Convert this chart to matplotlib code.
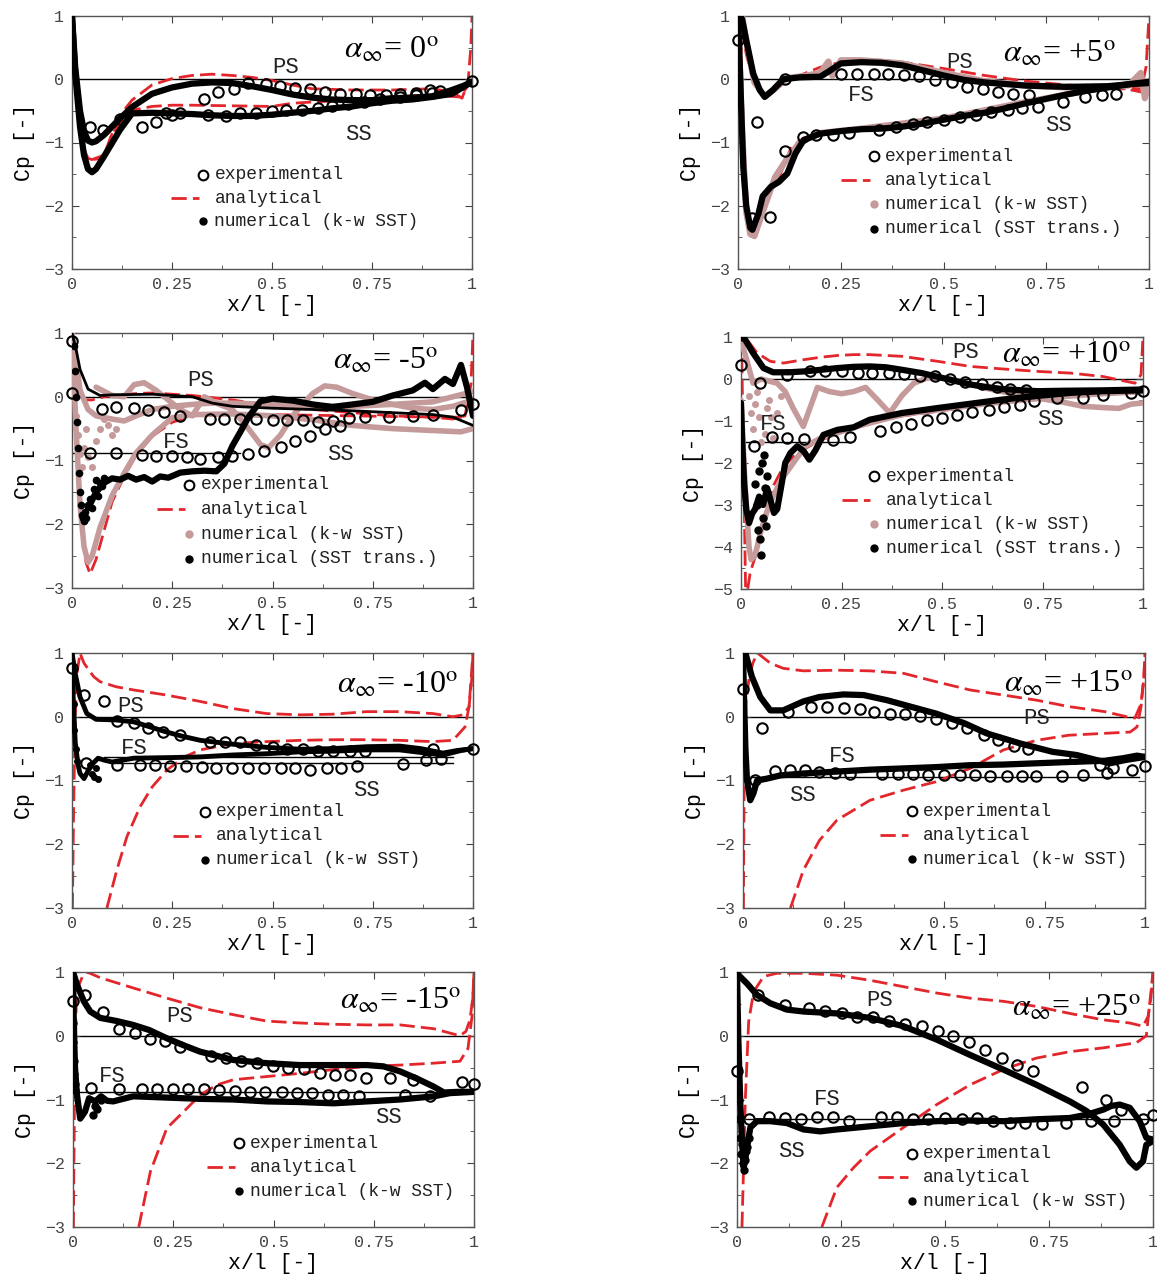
import matplotlib
matplotlib.use('Agg')
from matplotlib import pyplot as plt

plt.rcParams['mathtext.fontset'] = 'stix'
MONO = 'Liberation Mono'
SERIF = 'Liberation Serif'
RED = '#e3262b'
PINK = '#c49a9a'
W, H = 1157, 1282

# ---------------- alpha = 0 ----------------
P0_EXP_X = [0.33, 0.365, 0.405, 0.44, 0.485, 0.52, 0.558, 0.595, 0.633, 0.67, 0.71, 0.745, 0.785, 0.82, 0.86, 0.895, 0.92, 1.0,
            0.045, 0.077, 0.12, 0.175, 0.21, 0.235, 0.25, 0.27, 0.34, 0.385, 0.42, 0.46, 0.5, 0.535, 0.575, 0.615, 0.65, 0.69, 0.73, 0.77, 0.82, 0.86, 0.9]
P0_EXP_Y = [-0.31, -0.2, -0.15, -0.06, -0.07, -0.11, -0.14, -0.16, -0.2, -0.23, -0.24, -0.25, -0.25, -0.23, -0.21, -0.17, -0.18, -0.03,
            -0.75, -0.8, -0.63, -0.75, -0.68, -0.54, -0.57, -0.54, -0.57, -0.58, -0.53, -0.53, -0.5, -0.49, -0.48, -0.45, -0.43, -0.39, -0.36, -0.32, -0.28, -0.25, -0.22]
P0_NUM_PS_X = [0, 0.008, 0.02, 0.03, 0.04, 0.05, 0.06, 0.08, 0.1, 0.12, 0.15, 0.2, 0.25, 0.3, 0.35, 0.4, 0.45, 0.5, 0.55, 0.6, 0.65, 0.7, 0.75, 0.8, 0.85, 0.9, 0.95, 0.98, 1.0]
P0_NUM_PS_Y = [1.0, 0.19, -0.5, -0.82, -0.97, -1.0, -0.98, -0.88, -0.75, -0.62, -0.44, -0.23, -0.13, -0.07, -0.05, -0.06, -0.11, -0.17, -0.24, -0.29, -0.32, -0.33, -0.33, -0.3, -0.29, -0.27, -0.17, -0.1, -0.04]
P0_NUM_SS_X = [0, 0.008, 0.02, 0.03, 0.04, 0.05, 0.06, 0.08, 0.1, 0.12, 0.15, 0.2, 0.25, 0.3, 0.35, 0.4, 0.45, 0.5, 0.55, 0.6, 0.65, 0.7, 0.75, 0.8, 0.85, 0.9, 0.95, 1.0]
P0_NUM_SS_Y = [1.0, 0.1, -0.75, -1.2, -1.42, -1.47, -1.42, -1.22, -1.01, -0.8, -0.54, -0.53, -0.54, -0.55, -0.57, -0.58, -0.58, -0.56, -0.53, -0.5, -0.46, -0.43, -0.38, -0.34, -0.32, -0.28, -0.23, -0.04]
P0_ANA_PS_X = [0.0, 0.01, 0.02, 0.03, 0.04, 0.05, 0.08, 0.1, 0.13, 0.15, 0.2, 0.25, 0.3, 0.35, 0.4, 0.45, 0.5, 0.55, 0.6, 0.7, 0.8, 0.9, 0.95, 0.975, 0.99, 0.997, 1.0]
P0_ANA_PS_Y = [1.0, 0.2, -0.6, -1.1, -1.25, -1.27, -1.25, -0.86, -0.49, -0.33, -0.09, 0.01, 0.06, 0.08, 0.06, 0.03, -0.02, -0.09, -0.15, -0.17, -0.17, -0.15, -0.2, -0.3, -0.05, 0.5, 1.0]
P0_ANA_SS_X = [0.04, 0.05, 0.08, 0.1, 0.15, 0.2, 0.25, 0.3, 0.4, 0.5, 0.55, 0.6, 0.7, 0.8, 0.9, 0.97, 0.99]
P0_ANA_SS_Y = [-1.25, -1.27, -1.2, -0.86, -0.49, -0.43, -0.41, -0.41, -0.42, -0.43, -0.38, -0.36, -0.33, -0.28, -0.25, -0.28, -0.1]

# ---------------- alpha = +5 ----------------
P5_EXP_X = [0.0, 0.114, 0.25, 0.29, 0.33, 0.365, 0.404, 0.44, 0.48, 0.52, 0.556, 0.595, 0.633, 0.67, 0.708,
            0.046, 0.035, 0.077, 0.114, 0.157, 0.19, 0.23, 0.27, 0.343, 0.384, 0.425, 0.46, 0.5, 0.54, 0.58, 0.615, 0.656, 0.69, 0.73, 0.79, 0.844, 0.885, 0.92]
P5_EXP_Y = [0.62, 0.0, 0.09, 0.09, 0.09, 0.08, 0.06, 0.05, -0.01, -0.04, -0.13, -0.16, -0.2, -0.23, -0.25,
            -0.67, -2.2, -2.17, -1.13, -0.92, -0.88, -0.88, -0.85, -0.8, -0.75, -0.7, -0.67, -0.65, -0.6, -0.56, -0.51, -0.49, -0.45, -0.44, -0.36, -0.28, -0.25, -0.24]
P5_TR_PS_X = [0.0, 0.005, 0.01, 0.02, 0.037, 0.053, 0.065, 0.085, 0.11, 0.15, 0.2, 0.22, 0.25, 0.3, 0.35, 0.4, 0.45, 0.5, 0.55, 0.6, 0.7, 0.8, 0.9, 0.95, 1.0]
P5_TR_PS_Y = [0.9, 1.0, 0.95, 0.62, 0.09, -0.17, -0.28, -0.17, 0.0, 0.03, 0.04, 0.12, 0.25, 0.27, 0.26, 0.22, 0.14, 0.06, -0.01, -0.05, -0.1, -0.12, -0.11, -0.08, -0.06]
P5_TR_SS_X = [0.0, 0.003, 0.008, 0.013, 0.02, 0.03, 0.035, 0.05, 0.06, 0.08, 0.1, 0.12, 0.14, 0.16, 0.2, 0.25, 0.3, 0.35, 0.4, 0.45, 0.5, 0.55, 0.6, 0.65, 0.7, 0.75, 0.8, 0.85, 0.9, 0.95, 1.0]
P5_TR_SS_Y = [0.95, 0.5, -0.5, -1.4, -2.0, -2.35, -2.38, -2.12, -1.85, -1.7, -1.62, -1.49, -1.17, -0.96, -0.86, -0.82, -0.79, -0.78, -0.75, -0.7, -0.64, -0.58, -0.53, -0.46, -0.38, -0.31, -0.24, -0.18, -0.13, -0.08, -0.04]
P5_KW_PS_X = [0.0, 0.01, 0.02, 0.04, 0.065, 0.09, 0.12, 0.16, 0.2, 0.22, 0.23, 0.25, 0.3, 0.4, 0.5, 0.6, 0.7, 0.8, 0.9, 0.95, 0.98, 0.99, 1.0]
P5_KW_PS_Y = [0.9, 1.0, 0.6, -0.05, -0.27, -0.15, 0.02, 0.05, 0.1, 0.28, 0.05, 0.3, 0.3, 0.25, 0.1, -0.03, -0.1, -0.13, -0.12, -0.1, 0.1, -0.3, -0.05]
P5_KW_SS_X = [0.0, 0.01, 0.02, 0.03, 0.04, 0.06, 0.09, 0.12, 0.15, 0.2, 0.3, 0.5, 0.7, 0.9, 1.0]
P5_KW_SS_Y = [0.95, -0.8, -2.1, -2.45, -2.48, -2.1, -1.55, -1.25, -1.0, -0.85, -0.78, -0.62, -0.36, -0.12, -0.04]
P5_ANA_PS_X = [0.0, 0.005, 0.01, 0.02, 0.04, 0.07, 0.1, 0.12, 0.15, 0.2, 0.25, 0.3, 0.35, 0.4, 0.5, 0.6, 0.7, 0.8, 0.9, 0.95, 0.98, 0.993, 1.0]
P5_ANA_PS_Y = [1.15, 1.0, 0.8, 0.4, -0.1, -0.25, -0.1, 0.0, 0.06, 0.19, 0.27, 0.31, 0.3, 0.27, 0.17, 0.06, -0.03, -0.09, -0.13, -0.16, -0.2, 0.2, 1.0]
P5_ANA_SS_X = [0.005, 0.015, 0.025, 0.035, 0.05, 0.07, 0.1, 0.13, 0.16, 0.2, 0.3, 0.4, 0.5, 0.6, 0.7, 0.8, 0.9, 0.98]
P5_ANA_SS_Y = [1.0, -1.2, -2.2, -2.45, -2.2, -1.85, -1.55, -1.07, -0.93, -0.86, -0.8, -0.74, -0.62, -0.5, -0.36, -0.22, -0.13, -0.15]

# ---------------- alpha = -5 ----------------
M5_EXP_X = [0.0, 0.0, 0.075, 0.11, 0.155, 0.19, 0.23, 0.27, 0.344, 0.38, 0.42, 0.46, 0.5, 0.535, 0.575, 0.614, 0.65, 0.69, 0.73, 0.79, 0.85, 0.9, 0.97, 1.0,
            0.045, 0.11, 0.174, 0.21, 0.25, 0.286, 0.32, 0.365, 0.4, 0.44, 0.48, 0.52, 0.556, 0.593, 0.63, 0.668]
M5_EXP_Y = [0.87, 0.06, -0.19, -0.16, -0.17, -0.2, -0.24, -0.3, -0.35, -0.35, -0.35, -0.35, -0.37, -0.37, -0.37, -0.4, -0.38, -0.33, -0.32, -0.32, -0.3, -0.28, -0.2, -0.12,
            -0.88, -0.88, -0.92, -0.93, -0.93, -0.94, -0.97, -0.94, -0.93, -0.9, -0.85, -0.79, -0.7, -0.62, -0.51, -0.46]
M5_TR_PS_X = [0.0, 0.01, 0.02, 0.04, 0.07, 0.1, 0.2, 0.3, 0.35, 0.4, 0.5, 0.6, 0.7, 0.8, 0.9, 0.95, 1.0]
M5_TR_PS_Y = [1.0, 0.75, 0.43, 0.12, 0.02, 0.03, 0.04, 0.0, -0.1, -0.15, -0.18, -0.2, -0.22, -0.25, -0.28, -0.32, -0.45]
M5_TR_SS_X = [0.04, 0.06, 0.08, 0.1, 0.12, 0.14, 0.16, 0.18, 0.2, 0.22, 0.24, 0.27, 0.3, 0.33, 0.36, 0.38, 0.4, 0.42, 0.44, 0.47, 0.5, 0.55, 0.6, 0.65, 0.7, 0.75, 0.8, 0.85, 0.88, 0.9, 0.93, 0.95, 0.97, 0.985, 1.0]
M5_TR_SS_Y = [-1.75, -1.5, -1.35, -1.28, -1.3, -1.24, -1.3, -1.26, -1.33, -1.25, -1.27, -1.19, -1.17, -1.16, -1.17, -1.05, -0.77, -0.55, -0.32, -0.07, -0.03, -0.06, -0.12, -0.16, -0.12, -0.08, 0.02, 0.1, 0.22, 0.12, 0.28, 0.2, 0.5, 0.15, -0.3]
M5_TR_DOT_X = [0.005, 0.008, 0.01, 0.012, 0.015, 0.018, 0.02, 0.022, 0.025, 0.028, 0.03, 0.033, 0.036, 0.04, 0.045, 0.05, 0.055, 0.06, 0.065, 0.07, 0.075, 0.08]
M5_TR_DOT_Y = [0.8, 0.4, 0.0, -0.4, -0.8, -1.2, -1.5, -1.7, -1.85, -1.9, -1.95, -1.8, -1.9, -1.7, -1.6, -1.75, -1.45, -1.3, -1.55, -1.35, -1.4, -1.28]
M5_KW_A_X = [0.0, 0.01, 0.02, 0.03, 0.04, 0.05, 0.07, 0.1, 0.13, 0.16, 0.2, 0.25, 0.3, 0.4, 0.5, 0.6, 0.7, 0.8, 0.9, 0.97, 1.0]
M5_KW_A_Y = [1.0, -0.5, -1.7, -2.35, -2.6, -2.5, -2.05, -1.55, -1.2, -0.88, -0.6, -0.33, -0.28, -0.27, -0.3, -0.36, -0.45, -0.5, -0.53, -0.55, -0.5]
M5_KW_B_X = [0.0, 0.01, 0.02, 0.04, 0.06, 0.1, 0.13, 0.16, 0.2, 0.25, 0.3, 0.35, 0.4, 0.5, 0.6, 0.7, 0.8, 0.9, 1.0]
M5_KW_B_Y = [1.0, 0.6, 0.1, -0.2, -0.3, -0.35, -0.38, -0.3, -0.2, -0.15, -0.12, -0.1, -0.1, -0.12, -0.15, -0.15, -0.12, -0.08, 0.08]
M5_KW_C_X = [0.06, 0.1, 0.13, 0.155, 0.18, 0.21, 0.24, 0.27, 0.3, 0.33, 0.36, 0.4, 0.44, 0.47, 0.49, 0.52, 0.55, 0.6, 0.63, 0.66, 0.7, 0.75, 0.8, 0.85, 0.9, 0.95, 1.0]
M5_KW_C_Y = [0.15, 0.02, 0.0, 0.19, 0.22, 0.1, -0.05, -0.2, -0.3, 0.0, -0.1, -0.2, -0.5, -0.75, -0.8, -0.6, -0.3, 0.05, 0.17, 0.15, 0.05, -0.05, -0.12, -0.18, -0.2, -0.15, -0.05]
M5_KW_DOT_X = [0.01, 0.015, 0.02, 0.025, 0.03, 0.035, 0.04, 0.05, 0.06, 0.07, 0.08, 0.09, 0.1, 0.11]
M5_KW_DOT_Y = [-0.3, -0.6, -0.9, -1.1, -0.8, -0.5, -0.95, -1.1, -0.7, -0.5, -0.35, -0.45, -0.6, -0.5]
M5_ANA_PS_X = [0.0, 0.01, 0.02, 0.03, 0.05, 0.08, 0.12, 0.16, 0.2, 0.3, 0.4, 0.5, 0.6, 0.7, 0.8, 0.9, 0.95, 0.98, 0.995, 1.0]
M5_ANA_PS_Y = [1.0, 0.4, 0.05, -0.05, -0.05, 0.0, 0.03, 0.05, 0.06, 0.02, -0.05, -0.15, -0.2, -0.25, -0.3, -0.32, -0.35, -0.3, 0.2, 1.0]
M5_ANA_SS_X = [0.005, 0.015, 0.025, 0.035, 0.045, 0.06, 0.08, 0.1, 0.13, 0.16, 0.2, 0.25, 0.3, 0.4, 0.5, 0.7, 0.9, 0.98]
M5_ANA_SS_Y = [0.5, -1.0, -2.0, -2.6, -2.78, -2.55, -2.1, -1.65, -1.25, -0.92, -0.62, -0.4, -0.3, -0.27, -0.28, -0.3, -0.32, -0.32]

# ---------------- alpha = +10 ----------------
P10_EXP_X = [0.0, 0.048, 0.114, 0.172, 0.21, 0.25, 0.29, 0.326, 0.367, 0.405, 0.446, 0.483, 0.52, 0.558, 0.6, 0.637, 0.67, 0.71, 0.786, 0.85, 0.9, 0.97, 1.0,
             0.032, 0.077, 0.114, 0.156, 0.23, 0.27, 0.345, 0.386, 0.423, 0.463, 0.5, 0.537, 0.575, 0.616, 0.653, 0.695, 0.73]
P10_EXP_Y = [0.34, -0.1, 0.1, 0.18, 0.18, 0.18, 0.14, 0.14, 0.14, 0.13, 0.08, 0.06, 0.0, -0.06, -0.13, -0.19, -0.24, -0.27, -0.45, -0.45, -0.37, -0.33, -0.29,
             -1.6, -1.38, -1.4, -1.44, -1.46, -1.38, -1.23, -1.15, -1.06, -0.97, -0.93, -0.85, -0.79, -0.73, -0.67, -0.61, -0.52]
P10_TR_PS_X = [0.0, 0.01, 0.03, 0.056, 0.08, 0.12, 0.156, 0.2, 0.24, 0.28, 0.32, 0.36, 0.4, 0.45, 0.49, 0.53, 0.57, 0.61, 0.65, 0.7, 0.74, 0.8, 0.9, 1.0]
P10_TR_PS_Y = [0.98, 0.94, 0.62, 0.26, 0.16, 0.16, 0.18, 0.22, 0.26, 0.29, 0.3, 0.28, 0.22, 0.14, 0.05, -0.04, -0.13, -0.19, -0.24, -0.27, -0.29, -0.28, -0.27, -0.25]
P10_TR_SS_X = [0.0, 0.003, 0.008, 0.013, 0.02, 0.028, 0.035, 0.045, 0.055, 0.065, 0.073, 0.082, 0.09, 0.1, 0.11, 0.123, 0.14, 0.156, 0.17, 0.185, 0.205, 0.24, 0.28, 0.32, 0.36, 0.4, 0.49, 0.57, 0.65, 0.74, 0.82, 0.9, 1.0]
P10_TR_SS_Y = [-0.57, -1.5, -2.5, -3.1, -3.43, -3.2, -3.1, -2.8, -3.0, -2.6, -2.87, -3.19, -3.1, -2.56, -2.0, -1.76, -1.6, -1.72, -1.92, -1.7, -1.33, -1.21, -1.15, -0.97, -0.89, -0.81, -0.69, -0.59, -0.49, -0.4, -0.33, -0.29, -0.27]
P10_TR_DOT_X = [0.035, 0.04, 0.042, 0.045, 0.048, 0.05, 0.052, 0.055, 0.057, 0.06, 0.062, 0.065]
P10_TR_DOT_Y = [-2.5, -3.0, -3.6, -2.2, -3.8, -4.2, -2.0, -3.3, -1.8, -2.6, -3.5, -2.3]
P10_KW_PS_X = [0.0, 0.01, 0.03, 0.05, 0.07, 0.09, 0.11, 0.13, 0.155, 0.175, 0.19, 0.22, 0.25, 0.28, 0.31, 0.34, 0.37, 0.4, 0.43, 0.47, 0.52, 0.6, 0.7, 0.8, 0.85, 0.9, 0.94, 0.97, 1.0]
P10_KW_PS_Y = [0.9, 0.6, -0.1, 0.0, -0.05, -0.1, -0.3, -0.7, -1.13, -0.6, -0.2, -0.3, -0.35, -0.3, -0.2, -0.5, -0.81, -0.4, -0.1, 0.05, 0.0, -0.2, -0.4, -0.55, -0.65, -0.68, -0.7, -0.6, -0.57]
P10_KW_SS_X = [0.0, 0.01, 0.02, 0.025, 0.035, 0.05, 0.07, 0.1, 0.13, 0.16, 0.2, 0.3, 0.4, 0.5, 0.6, 0.7, 0.8, 0.9, 1.0]
P10_KW_SS_Y = [-0.5, -2.5, -4.0, -4.3, -4.2, -3.6, -3.0, -2.4, -2.0, -1.6, -1.4, -1.1, -0.85, -0.72, -0.6, -0.5, -0.42, -0.35, -0.3]
P10_KW_DOT_X = [0.02, 0.025, 0.03, 0.035, 0.04, 0.045, 0.05, 0.055, 0.06, 0.065, 0.07, 0.075, 0.08, 0.09, 0.1]
P10_KW_DOT_Y = [-0.4, -0.8, -1.2, -0.6, -0.3, -0.9, -1.5, -2.0, -1.3, -0.7, -0.5, -0.9, -1.4, -0.8, -0.4]
P10_ANA_PS_X = [0.0, 0.01, 0.04, 0.073, 0.106, 0.156, 0.2, 0.24, 0.28, 0.32, 0.4, 0.49, 0.57, 0.65, 0.74, 0.82, 0.9, 0.94, 0.98, 0.995, 1.0]
P10_ANA_PS_Y = [0.6, 1.0, 0.62, 0.42, 0.38, 0.46, 0.52, 0.56, 0.58, 0.58, 0.54, 0.42, 0.3, 0.24, 0.18, 0.14, 0.06, -0.02, -0.1, 0.1, 1.0]
P10_ANA_SS_X = [0.002, 0.008, 0.012, 0.023, 0.04, 0.056, 0.08, 0.106, 0.14, 0.17, 0.2, 0.24, 0.32, 0.4, 0.49, 0.57, 0.65, 0.74, 0.82, 0.9, 0.98]
P10_ANA_SS_Y = [0.5, -3.0, -5.3, -4.6, -4.1, -3.35, -2.55, -2.08, -1.76, -1.6, -1.45, -1.3, -1.05, -0.88, -0.77, -0.65, -0.53, -0.45, -0.37, -0.33, -0.29]

# ---------------- alpha = -10 ----------------
M10_EXP_X = [0.0, 0.03, 0.079, 0.112, 0.154, 0.19, 0.228, 0.27, 0.345, 0.382, 0.42, 0.46, 0.5, 0.535, 0.575, 0.614, 0.65, 0.693, 0.73, 0.826, 0.884, 0.9, 0.92, 1.0,
             0.036, 0.112, 0.17, 0.208, 0.245, 0.285, 0.324, 0.36, 0.4, 0.44, 0.48, 0.52, 0.556, 0.593, 0.635, 0.672, 0.71]
M10_EXP_Y = [0.76, 0.34, 0.24, -0.06, -0.1, -0.17, -0.24, -0.28, -0.39, -0.39, -0.39, -0.45, -0.47, -0.5, -0.5, -0.53, -0.54, -0.54, -0.54, -0.74, -0.68, -0.5, -0.67, -0.5,
             -0.72, -0.76, -0.76, -0.76, -0.77, -0.77, -0.79, -0.8, -0.8, -0.81, -0.81, -0.81, -0.81, -0.84, -0.81, -0.8, -0.77]
M10_NUM_PS_X = [0.0, 0.008, 0.02, 0.037, 0.06, 0.11, 0.154, 0.195, 0.236, 0.278, 0.32, 0.4, 0.485, 0.57, 0.65, 0.734, 0.817, 0.87, 0.925, 0.96, 1.0]
M10_NUM_PS_Y = [1.0, 0.68, 0.31, 0.05, -0.04, -0.05, -0.08, -0.16, -0.24, -0.31, -0.37, -0.43, -0.48, -0.51, -0.5, -0.47, -0.46, -0.5, -0.57, -0.53, -0.5]
M10_NUM_SS_X = [0.0, 0.003, 0.008, 0.015, 0.02, 0.03, 0.04, 0.054, 0.065, 0.08, 0.1, 0.154, 0.25, 0.32, 0.4, 0.485, 0.57, 0.65, 0.734, 0.817, 0.87, 0.925, 0.97, 1.0]
M10_NUM_SS_Y = [1.0, 0.3, -0.4, -0.75, -0.89, -0.97, -0.85, -0.72, -0.65, -0.68, -0.71, -0.65, -0.64, -0.63, -0.6, -0.58, -0.55, -0.54, -0.52, -0.52, -0.56, -0.6, -0.53, -0.5]
M10_NUM_DOT_X = [0.002, 0.004, 0.006, 0.01, 0.013, 0.045, 0.05, 0.055, 0.06, 0.065]
M10_NUM_DOT_Y = [0.6, 0.2, -0.2, -0.5, -0.7, -0.75, -0.9, -0.95, -0.8, -0.97]
M10_ANA_PS_X = [0.001, 0.004, 0.008, 0.013, 0.02, 0.03, 0.054, 0.07, 0.11, 0.154, 0.236, 0.32, 0.4, 0.485, 0.57, 0.65, 0.734, 0.817, 0.9, 0.95, 0.975, 0.99, 0.997, 1.0]
M10_ANA_PS_Y = [-3.0, -1.5, 0.0, 0.7, 1.0, 0.84, 0.63, 0.55, 0.47, 0.42, 0.34, 0.24, 0.13, 0.05, 0.03, 0.04, 0.08, 0.08, 0.05, 0.0, 0.03, 0.15, 0.6, 1.0]
M10_ANA_SS_X = [0.087, 0.112, 0.137, 0.17, 0.2, 0.236, 0.28, 0.32, 0.4, 0.485, 0.57, 0.65, 0.734, 0.817, 0.9, 0.95, 0.98, 0.99, 1.0]
M10_ANA_SS_Y = [-3.0, -2.4, -1.88, -1.41, -1.1, -0.84, -0.63, -0.52, -0.42, -0.39, -0.37, -0.36, -0.36, -0.37, -0.39, -0.37, -0.16, 0.15, 1.0]

# ---------------- alpha = +15 ----------------
P15_EXP_X = [0.0, 0.047, 0.113, 0.17, 0.21, 0.25, 0.29, 0.325, 0.366, 0.403, 0.44, 0.48, 0.52, 0.558, 0.6, 0.635, 0.673, 0.71, 0.826, 0.888, 0.92, 0.967, 1.0,
             0.03, 0.08, 0.118, 0.155, 0.19, 0.23, 0.267, 0.345, 0.385, 0.424, 0.46, 0.5, 0.54, 0.577, 0.615, 0.656, 0.693, 0.73, 0.793, 0.847, 0.905]
P15_EXP_Y = [0.43, -0.18, 0.08, 0.16, 0.16, 0.13, 0.12, 0.08, 0.05, 0.04, 0.01, -0.03, -0.1, -0.18, -0.29, -0.36, -0.46, -0.5, -0.64, -0.76, -0.81, -0.84, -0.77,
             -0.99, -0.85, -0.84, -0.84, -0.86, -0.89, -0.9, -0.9, -0.9, -0.9, -0.92, -0.92, -0.92, -0.92, -0.93, -0.93, -0.93, -0.93, -0.93, -0.92, -0.89]
P15_NUM_PS_X = [0.0, 0.006, 0.022, 0.043, 0.068, 0.1, 0.15, 0.19, 0.25, 0.3, 0.358, 0.416, 0.48, 0.55, 0.606, 0.69, 0.77, 0.83, 0.88, 0.913, 0.95, 1.0]
P15_NUM_PS_Y = [0.95, 1.0, 0.63, 0.31, 0.1, 0.1, 0.24, 0.31, 0.35, 0.34, 0.26, 0.16, 0.05, -0.1, -0.26, -0.42, -0.55, -0.6, -0.68, -0.73, -0.68, -0.63]
P15_NUM_SS_X = [0.0, 0.003, 0.006, 0.01, 0.018, 0.026, 0.035, 0.06, 0.093, 0.15, 0.234, 0.316, 0.4, 0.48, 0.565, 0.648, 0.73, 0.81, 0.9, 0.946, 0.98, 1.0]
P15_NUM_SS_Y = [1.0, 0.2, -0.5, -1.0, -1.31, -1.2, -1.0, -0.97, -0.92, -0.89, -0.86, -0.83, -0.81, -0.79, -0.76, -0.75, -0.73, -0.71, -0.69, -0.65, -0.61, -0.63]
P15_ANA_PS_X = [0.001, 0.003, 0.007, 0.015, 0.025, 0.036, 0.068, 0.1, 0.15, 0.234, 0.316, 0.4, 0.48, 0.565, 0.648, 0.73, 0.81, 0.9, 0.955, 0.975, 0.99, 0.997, 1.0]
P15_ANA_PS_Y = [-3.0, -1.0, 0.2, 0.6, 0.85, 1.0, 0.84, 0.76, 0.72, 0.73, 0.72, 0.68, 0.55, 0.42, 0.34, 0.26, 0.16, 0.08, 0.0, -0.02, 0.2, 0.6, 1.0]
P15_ANA_SS_X = [0.118, 0.15, 0.19, 0.234, 0.316, 0.4, 0.48, 0.565, 0.648, 0.73, 0.81, 0.9, 0.963, 0.98, 0.99, 0.997, 1.0]
P15_ANA_SS_Y = [-3.0, -2.41, -1.94, -1.62, -1.31, -1.15, -1.02, -0.81, -0.52, -0.37, -0.29, -0.26, -0.24, -0.16, 0.15, 0.6, 1.0]

# ---------------- alpha = -15 ----------------
M15_EXP_X = [0.0, 0.03, 0.076, 0.114, 0.155, 0.193, 0.23, 0.267, 0.344, 0.382, 0.42, 0.458, 0.498, 0.537, 0.575, 0.616, 0.654, 0.69, 0.73, 0.79, 0.847, 0.97, 1.0,
             0.045, 0.114, 0.172, 0.21, 0.25, 0.288, 0.326, 0.363, 0.404, 0.442, 0.48, 0.52, 0.558, 0.596, 0.637, 0.674, 0.712, 0.828, 0.89]
M15_EXP_Y = [0.54, 0.64, 0.38, 0.11, 0.04, -0.05, -0.08, -0.17, -0.31, -0.35, -0.39, -0.43, -0.48, -0.51, -0.52, -0.58, -0.61, -0.61, -0.66, -0.66, -0.69, -0.73, -0.76,
             -0.82, -0.83, -0.83, -0.83, -0.83, -0.83, -0.83, -0.85, -0.87, -0.89, -0.89, -0.89, -0.9, -0.9, -0.93, -0.93, -0.94, -0.93, -0.95]
M15_NUM_PS_X = [0.0, 0.01, 0.027, 0.043, 0.068, 0.11, 0.15, 0.19, 0.234, 0.276, 0.317, 0.4, 0.483, 0.566, 0.65, 0.733, 0.774, 0.816, 0.857, 0.9, 0.925, 0.96, 1.0]
M15_NUM_PS_Y = [1.0, 0.8, 0.54, 0.38, 0.28, 0.23, 0.17, 0.09, -0.04, -0.15, -0.25, -0.38, -0.43, -0.46, -0.46, -0.46, -0.48, -0.56, -0.67, -0.8, -0.89, -0.88, -0.88]
M15_NUM_SS_X = [0.0, 0.002, 0.005, 0.01, 0.018, 0.03, 0.04, 0.055, 0.07, 0.085, 0.1, 0.15, 0.234, 0.317, 0.4, 0.483, 0.566, 0.65, 0.733, 0.816, 0.9, 0.94, 1.0]
M15_NUM_SS_Y = [1.0, 0.2, -0.5, -0.93, -1.3, -1.19, -0.98, -1.03, -0.95, -1.02, -1.03, -0.95, -0.97, -0.99, -1.0, -1.03, -1.04, -1.06, -1.03, -1.0, -0.95, -0.9, -0.88]
M15_NUM_DOT_X = [0.0, 0.001, 0.002, 0.003, 0.004, 0.005, 0.05, 0.055, 0.06, 0.07]
M15_NUM_DOT_Y = [0.2, -0.1, -0.4, -0.6, -0.75, -0.85, -1.24, -1.1, -1.15, -1.0]
M15_ANA_PS_X = [0.001, 0.004, 0.008, 0.015, 0.025, 0.035, 0.068, 0.15, 0.234, 0.317, 0.4, 0.483, 0.566, 0.65, 0.733, 0.816, 0.9, 0.965, 0.98, 0.99, 0.997, 1.0]
M15_ANA_PS_Y = [-3.0, -0.8, 0.5, 0.8, 0.95, 1.0, 0.91, 0.75, 0.59, 0.44, 0.33, 0.23, 0.2, 0.18, 0.17, 0.17, 0.11, 0.0, 0.07, 0.25, 0.6, 1.0]
M15_ANA_SS_X = [0.164, 0.193, 0.234, 0.276, 0.317, 0.359, 0.4, 0.483, 0.566, 0.65, 0.733, 0.816, 0.9, 0.965, 0.985, 0.995, 1.0]
M15_ANA_SS_Y = [-3.0, -2.13, -1.45, -1.19, -0.93, -0.77, -0.69, -0.64, -0.59, -0.53, -0.48, -0.46, -0.43, -0.4, -0.2, 0.3, 1.0]

# ---------------- alpha = +25 ----------------
P25_EXP_X = [0.0, 0.05, 0.116, 0.174, 0.212, 0.252, 0.288, 0.328, 0.366, 0.404, 0.444, 0.482, 0.52, 0.558, 0.596, 0.636, 0.674, 0.712, 0.83, 0.888, 0.924, 1.0,
             0.03, 0.076, 0.116, 0.154, 0.192, 0.23, 0.27, 0.346, 0.384, 0.422, 0.46, 0.5, 0.54, 0.578, 0.616, 0.656, 0.692, 0.732, 0.79, 0.85, 0.906, 0.976]
P25_EXP_Y = [-0.55, 0.64, 0.49, 0.43, 0.39, 0.35, 0.3, 0.29, 0.23, 0.18, 0.15, 0.08, -0.01, -0.1, -0.23, -0.35, -0.46, -0.56, -0.81, -1.0, -1.16, -1.24,
             -1.3, -1.28, -1.29, -1.3, -1.28, -1.28, -1.33, -1.28, -1.28, -1.31, -1.31, -1.29, -1.3, -1.29, -1.34, -1.37, -1.37, -1.38, -1.37, -1.33, -1.33, -1.3]
P25_NUM_PS_X = [0.0, 0.004, 0.024, 0.048, 0.08, 0.12, 0.16, 0.24, 0.32, 0.4, 0.48, 0.56, 0.64, 0.72, 0.8, 0.84, 0.88, 0.92, 0.944, 0.96, 0.976, 0.984, 1.0]
P25_NUM_PS_Y = [1.0, 0.95, 0.82, 0.64, 0.51, 0.41, 0.38, 0.35, 0.28, 0.15, -0.06, -0.3, -0.53, -0.77, -1.03, -1.18, -1.39, -1.71, -1.97, -2.07, -1.97, -1.71, -1.65]
P25_NUM_SS_X = [0.0, 0.003, 0.008, 0.012, 0.016, 0.024, 0.032, 0.048, 0.08, 0.12, 0.16, 0.2, 0.24, 0.32, 0.4, 0.48, 0.56, 0.64, 0.72, 0.8, 0.84, 0.88, 0.9, 0.92, 0.944, 0.968, 0.984, 1.0]
P25_NUM_SS_Y = [1.0, 0.0, -1.08, -1.65, -2.07, -1.76, -1.44, -1.34, -1.34, -1.37, -1.47, -1.5, -1.47, -1.42, -1.37, -1.34, -1.33, -1.34, -1.31, -1.29, -1.24, -1.16, -1.1, -1.08, -1.13, -1.34, -1.6, -1.63]
P25_NUM_DOT_X = [0.002, 0.004, 0.006, 0.008, 0.01, 0.012, 0.014, 0.016, 0.018, 0.02, 0.022, 0.025, 0.028]
P25_NUM_DOT_Y = [-0.5, -1.0, -1.3, -1.6, -1.85, -1.7, -2.0, -1.9, -2.1, -1.95, -1.8, -1.75, -1.6]
P25_ANA_PS_X = [0.012, 0.02, 0.028, 0.04, 0.064, 0.096, 0.16, 0.24, 0.32, 0.4, 0.48, 0.56, 0.64, 0.72, 0.8, 0.88, 0.944, 0.976, 0.988, 0.995, 1.0]
P25_ANA_PS_Y = [-3.0, -1.0, 0.22, 0.69, 0.93, 0.98, 0.98, 0.95, 0.87, 0.77, 0.67, 0.59, 0.54, 0.46, 0.35, 0.25, 0.2, 0.15, 0.3, 0.6, 1.0]
P25_ANA_SS_X = [0.204, 0.24, 0.28, 0.32, 0.4, 0.48, 0.56, 0.64, 0.72, 0.8, 0.88, 0.96, 0.984, 0.992, 1.0]
P25_ANA_SS_Y = [-3.0, -2.38, -2.07, -1.81, -1.44, -1.08, -0.77, -0.53, -0.35, -0.25, -0.19, -0.11, 0.0, 0.5, 1.0]

DASH = (5.5, 2.2)


def rect(l, t, r, b):
    return [l / W, 1 - b / H, (r - l) / W, (b - t) / H]


def style(ax, ymin):
    ax.set_xlim(0, 1)
    ax.set_ylim(ymin, 1)
    ax.set_xticks([0, 0.25, 0.5, 0.75, 1])
    ax.set_xticklabels(['0', '0.25', '0.5', '0.75', '1'])
    ax.set_yticks(range(ymin, 2))
    ax.set_xticks([0.125, 0.375, 0.625, 0.875], minor=True)
    ax.set_yticks([v + 0.5 for v in range(ymin, 1)], minor=True)
    ax.tick_params(which='both', direction='in', top=True, right=True, colors='#444', labelsize=12, pad=6)
    ax.tick_params(which='major', length=5)
    ax.tick_params(which='minor', length=3)
    for lab in ax.get_xticklabels() + ax.get_yticklabels():
        lab.set_fontfamily(MONO)
    for sp in ax.spines.values():
        sp.set_color('#555')
        sp.set_linewidth(1.0)
    ax.set_xlabel('x/l [-]', fontfamily=MONO, fontsize=15.5, labelpad=2)
    ax.set_ylabel('Cp [-]', fontfamily=MONO, fontsize=15.5, labelpad=6)
    ax.axhline(0, color='black', lw=1.0, zorder=1)


def ana(ax, x, y):
    ax.plot(x, y, color=RED, lw=2.0, dashes=DASH, zorder=2)


def num(ax, x, y, color='black', lw=4.5):
    ax.plot(x, y, color=color, lw=lw, solid_capstyle='round', solid_joinstyle='round', zorder=3)


def dots(ax, x, y, color='black', ms=4.5):
    ax.plot(x, y, 'o', color=color, ms=ms, ls='none', zorder=3)


def exp(ax, x, y):
    ax.plot(x, y, 'o', mfc='none', mec='black', mew=1.5, ms=7.5, ls='none', zorder=4, clip_on=False)


def fs_line(ax, y, x0, x1):
    ax.plot([x0, x1], [y, y], color='black', lw=1.0, zorder=1)


def key(ax, mx, fy, step, entries):
    tx = mx + 0.028
    tr = ax.transAxes
    for i, kind in enumerate(entries):
        y = fy - i * step
        if kind == 'exp':
            ax.plot([mx], [y], 'o', mfc='none', mec='black', mew=1.5, ms=7, transform=tr)
            label = 'experimental'
        elif kind == 'ana':
            ax.plot([mx - 0.08, mx - 0.01], [y, y], color=RED, lw=2.0, dashes=DASH, transform=tr)
            label = 'analytical'
        elif kind == 'kw':
            ax.plot([mx], [y], 'o', color='black', ms=5, transform=tr)
            label = 'numerical (k-w SST)'
        elif kind == 'kwp':
            ax.plot([mx], [y], 'o', color=PINK, ms=5, transform=tr)
            label = 'numerical (k-w SST)'
        else:
            ax.plot([mx], [y], 'o', color='black', ms=5, transform=tr)
            label = 'numerical (SST trans.)'
        ax.text(tx, y, label, transform=tr, fontfamily=MONO, fontsize=13, va='center', ha='left', color='#222')


def title(ax, x, y, s):
    ax.text(x, y, r'$\alpha_{\infty}$= ' + s + r'$^{\mathrm{o}}$', fontfamily=SERIF, fontsize=23, va='center', ha='left')


def tag(ax, x, y, s):
    ax.text(x, y, s, fontfamily=MONO, fontsize=16, ha='center', va='center', color='#222')


fig = plt.figure(figsize=(W / 100, H / 100), dpi=100)

# alpha = 0
ax = fig.add_axes(rect(72, 16, 472, 269))
style(ax, -3)
ana(ax, P0_ANA_PS_X, P0_ANA_PS_Y)
ana(ax, P0_ANA_SS_X, P0_ANA_SS_Y)
num(ax, P0_NUM_PS_X, P0_NUM_PS_Y)
num(ax, P0_NUM_SS_X, P0_NUM_SS_Y)
exp(ax, P0_EXP_X, P0_EXP_Y)
title(ax, 0.68, 0.46, '0')
tag(ax, 0.535, 0.19, 'PS')
tag(ax, 0.717, -0.88, 'SS')
key(ax, 0.328, 0.3725, 0.092, ['exp', 'ana', 'kw'])

# alpha = +5
ax = fig.add_axes(rect(738, 16, 1149, 269))
style(ax, -3)
ana(ax, P5_ANA_PS_X, P5_ANA_PS_Y)
ana(ax, P5_ANA_SS_X, P5_ANA_SS_Y)
num(ax, P5_KW_PS_X, P5_KW_PS_Y, PINK, 4.5)
num(ax, P5_KW_SS_X, P5_KW_SS_Y, PINK, 4.5)
num(ax, P5_TR_PS_X, P5_TR_PS_Y)
num(ax, P5_TR_SS_X, P5_TR_SS_Y)
exp(ax, P5_EXP_X, P5_EXP_Y)
title(ax, 0.645, 0.4, '+5')
tag(ax, 0.54, 0.27, 'PS')
tag(ax, 0.3, -0.25, 'FS')
tag(ax, 0.78, -0.73, 'SS')
key(ax, 0.33, 0.445, 0.095, ['exp', 'ana', 'kwp', 'tr'])

# alpha = -5
ax = fig.add_axes(rect(72, 333, 473, 588))
style(ax, -3)
fs_line(ax, -0.89, 0.0, 0.42)
ana(ax, M5_ANA_PS_X, M5_ANA_PS_Y)
ana(ax, M5_ANA_SS_X, M5_ANA_SS_Y)
num(ax, M5_KW_A_X, M5_KW_A_Y, PINK, 4)
num(ax, M5_KW_B_X, M5_KW_B_Y, PINK, 4)
num(ax, M5_KW_C_X, M5_KW_C_Y, PINK, 4)
dots(ax, M5_KW_DOT_X, M5_KW_DOT_Y, PINK, 4)
num(ax, M5_TR_PS_X, M5_TR_PS_Y, 'black', 2.0)
num(ax, M5_TR_SS_X, M5_TR_SS_Y)
dots(ax, M5_TR_DOT_X, M5_TR_DOT_Y)
exp(ax, M5_EXP_X, M5_EXP_Y)
title(ax, 0.65, 0.56, '-5')
tag(ax, 0.32, 0.25, 'PS')
tag(ax, 0.26, -0.72, 'FS')
tag(ax, 0.67, -0.9, 'SS')
key(ax, 0.293, 0.405, 0.097, ['exp', 'ana', 'kwp', 'tr'])

# alpha = +10
ax = fig.add_axes(rect(741, 337, 1143, 589))
style(ax, -5)
fs_line(ax, -1.5, 0.0, 0.27)
ana(ax, P10_ANA_PS_X, P10_ANA_PS_Y)
ana(ax, P10_ANA_SS_X, P10_ANA_SS_Y)
num(ax, P10_KW_PS_X, P10_KW_PS_Y, PINK, 4)
num(ax, P10_KW_SS_X, P10_KW_SS_Y, PINK, 4)
dots(ax, P10_KW_DOT_X, P10_KW_DOT_Y, PINK, 4)
num(ax, P10_TR_PS_X, P10_TR_PS_Y)
num(ax, P10_TR_SS_X, P10_TR_SS_Y)
dots(ax, P10_TR_DOT_X, P10_TR_DOT_Y, 'black', 5)
exp(ax, P10_EXP_X, P10_EXP_Y)
title(ax, 0.65, 0.58, '+10')
tag(ax, 0.56, 0.62, 'PS')
tag(ax, 0.08, -1.09, 'FS')
tag(ax, 0.77, -0.97, 'SS')
key(ax, 0.332, 0.447, 0.095, ['exp', 'ana', 'kwp', 'tr'])

# alpha = -10
ax = fig.add_axes(rect(72, 653, 473, 908))
style(ax, -3)
fs_line(ax, -0.63, 0.08, 0.95)
fs_line(ax, -0.72, 0.1, 0.95)
ana(ax, M10_ANA_PS_X, M10_ANA_PS_Y)
ana(ax, M10_ANA_SS_X, M10_ANA_SS_Y)
num(ax, M10_NUM_PS_X, M10_NUM_PS_Y, 'black', 3.5)
num(ax, M10_NUM_SS_X, M10_NUM_SS_Y, 'black', 3.5)
dots(ax, M10_NUM_DOT_X, M10_NUM_DOT_Y, 'black', 4)
exp(ax, M10_EXP_X, M10_EXP_Y)
title(ax, 0.66, 0.5, '-10')
tag(ax, 0.145, 0.16, 'PS')
tag(ax, 0.154, -0.5, 'FS')
tag(ax, 0.734, -1.15, 'SS')
key(ax, 0.332, 0.378, 0.094, ['exp', 'ana', 'kw'])

# alpha = +15
ax = fig.add_axes(rect(743, 653, 1145, 908))
style(ax, -3)
fs_line(ax, -0.95, 0.02, 0.985)
ana(ax, P15_ANA_PS_X, P15_ANA_PS_Y)
ana(ax, P15_ANA_SS_X, P15_ANA_SS_Y)
num(ax, P15_NUM_PS_X, P15_NUM_PS_Y)
num(ax, P15_NUM_SS_X, P15_NUM_SS_Y)
exp(ax, P15_EXP_X, P15_EXP_Y)
title(ax, 0.65, 0.52, '+15')
tag(ax, 0.246, -0.63, 'FS')
tag(ax, 0.73, -0.03, 'PS')
tag(ax, 0.147, -1.23, 'SS')
key(ax, 0.42, 0.38, 0.094, ['exp', 'ana', 'kw'])

# alpha = -15
ax = fig.add_axes(rect(73, 972, 474, 1227))
style(ax, -3)
fs_line(ax, -0.89, 0.0, 1.0)
ana(ax, M15_ANA_PS_X, M15_ANA_PS_Y)
ana(ax, M15_ANA_SS_X, M15_ANA_SS_Y)
num(ax, M15_NUM_PS_X, M15_NUM_PS_Y)
num(ax, M15_NUM_SS_X, M15_NUM_SS_Y)
dots(ax, M15_NUM_DOT_X, M15_NUM_DOT_Y, 'black', 5)
exp(ax, M15_EXP_X, M15_EXP_Y)
title(ax, 0.666, 0.54, '-15')
tag(ax, 0.267, 0.3, 'PS')
tag(ax, 0.097, -0.64, 'FS')
tag(ax, 0.787, -1.28, 'SS')
key(ax, 0.413, 0.3275, 0.094, ['exp', 'ana', 'kw'])

# alpha = +25
ax = fig.add_axes(rect(737, 972, 1153, 1227))
style(ax, -3)
fs_line(ax, -1.3, 0.0, 1.0)
ana(ax, P25_ANA_PS_X, P25_ANA_PS_Y)
ana(ax, P25_ANA_SS_X, P25_ANA_SS_Y)
num(ax, P25_NUM_PS_X, P25_NUM_PS_Y)
num(ax, P25_NUM_SS_X, P25_NUM_SS_Y)
dots(ax, P25_NUM_DOT_X, P25_NUM_DOT_Y, 'black', 5)
exp(ax, P25_EXP_X, P25_EXP_Y)
title(ax, 0.66, 0.43, '+25')
tag(ax, 0.344, 0.56, 'PS')
tag(ax, 0.216, -1.0, 'FS')
tag(ax, 0.132, -1.81, 'SS')
key(ax, 0.42, 0.2875, 0.093, ['exp', 'ana', 'kw'])

fig.savefig('out.png', dpi=100)
